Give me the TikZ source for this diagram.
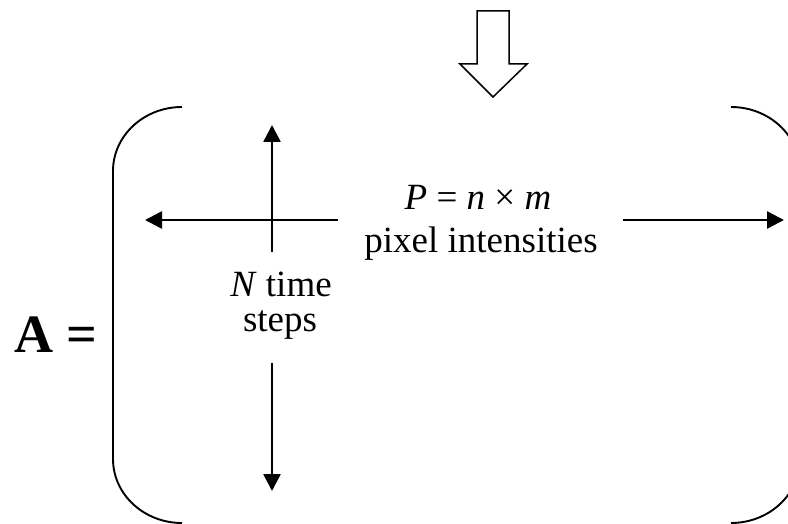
\documentclass[tikz,border=0pt]{standalone}
\usepackage{fontspec}
\setmainfont{Liberation Serif}
\usetikzlibrary{arrows.meta,positioning,calc}

\begin{document}
\begin{tikzpicture}[
  x=1pt,y=-1pt,
  lbl/.style={font=\fontsize{37}{42}\selectfont,inner sep=0pt,anchor=base},
  axis/.style={line width=2.5pt,-{Triangle[length=17pt,width=17pt]}},
  brack/.style={line width=1.9pt},
  hollow/.style={line width=1.5pt,line join=miter},
]
  \useasboundingbox (0,0) rectangle (788,524);
  \clip (0,0) rectangle (788,524);
  % ---- hollow arrow on top ----
  \draw[hollow] (477,11) -- (509,11) -- (509,64) -- (527,64) -- (493,97)
    -- (460,64) -- (477,64) -- cycle;
  % ---- brackets ----
  \draw[brack] (182,107) arc[start angle=270,end angle=180,x radius=69,y radius=64]
    -- (113,459) arc[start angle=180,end angle=90,x radius=69,y radius=64];
  \draw[brack] (731,107) arc[start angle=270,end angle=360,x radius=69,y radius=64]
    -- (800,459) arc[start angle=0,end angle=90,x radius=69,y radius=64];
  \node[font=\fontsize{54}{60}\selectfont\bfseries,inner sep=0pt,anchor=base] (lhs) at (56,352) {A =};
  % ---- axes ----
  \coordinate (ltail) at (338,220);
  \coordinate (lhead) at (145,220);
  \coordinate (rtail) at (623,220);
  \coordinate (rhead) at (784,220);
  \coordinate (ttail) at (272,252);
  \coordinate (thead) at (272,125);
  \coordinate (btail) at (272,363);
  \coordinate (bhead) at (272,491);
  \draw[axis] (ltail) -- (lhead);
  \draw[axis] (rtail) -- (rhead);
  \draw[axis] (ttail) -- (thead);
  \draw[axis] (btail) -- (bhead);
  % ---- labels ----
  \node[lbl] (size)   at (478,210) {\textit{P} = \textit{n} × \textit{m}};
  \node[lbl] (pixint) at (481,252) {pixel intensities};
  \node[lbl] (ntime)  at (281,296) {\textit{N} time};
  \node[lbl] (steps)  at (280,331) {steps};
\end{tikzpicture}
\end{document}
